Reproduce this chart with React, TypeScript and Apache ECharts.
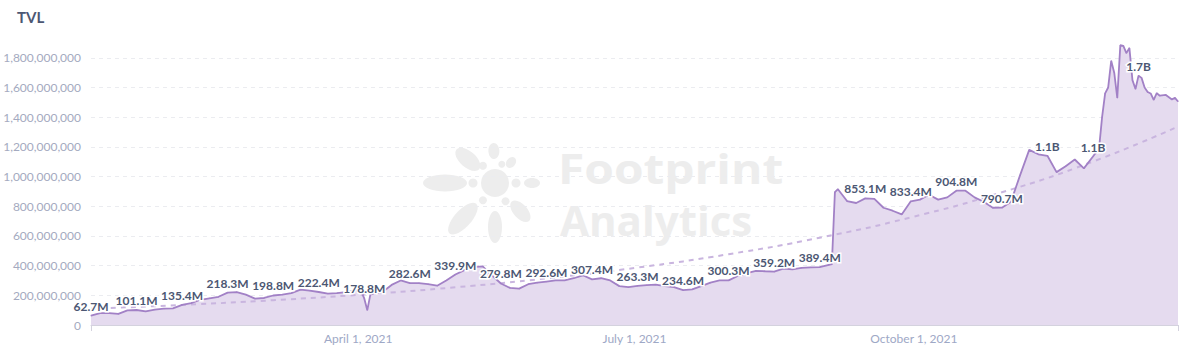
import React, { useEffect, useRef } from "react";
import * as echarts from "echarts";

const START_DATE = "2021-01-03";
const END_DAY = 358;
const LABEL_EVERY = 15;

// day offsets from START_DATE and TVL values (millions USD)
const dayOffsets = [
  0, 3, 6, 9, 12, 15, 18, 21, 24, 27, 30, 33, 36, 39, 42, 45, 48, 51, 54, 57, 60,
  63, 66, 69, 72, 75, 78, 81, 84, 87, 89, 90, 91, 92, 93, 96, 99, 102, 105, 108, 111, 114, 117, 120,
  123, 126, 129, 132, 135, 138, 141, 144, 147, 150, 153, 156, 159, 162, 165, 168, 171, 174, 177, 180,
  183, 186, 189, 192, 195, 198, 201, 204, 207, 210, 213, 216, 219, 222, 225, 228, 231, 234, 237, 240, 243, 244, 245, 246,
  249, 252, 255, 258, 261, 264, 267, 270, 273, 276, 279, 282, 285, 288, 291, 294, 297, 300, 303,
  306, 309, 312, 315, 318, 321, 324, 327, 330, 332, 333, 334, 335, 336, 337, 338, 339, 340, 341, 342, 343, 344, 345,
  346, 347, 348, 349, 350, 351, 352, 354, 356, 357, 358,
];
const tvlMillions = [
  62.7, 80, 80, 75, 98, 101.1, 92, 104, 110, 112, 135.4, 148, 170, 180, 190, 218.3, 222, 205, 178, 182, 198.8,
  205, 215, 238, 232, 222.4, 212, 215, 222, 235, 225, 178.8, 100, 205, 212, 222, 270, 300, 282.6, 282, 275, 265, 300, 339.9,
  370, 390, 395, 335, 279.8, 250, 245, 275, 285, 292.6, 300, 300, 315, 335, 307.4, 315, 300, 262, 255, 263.3,
  268, 272, 262, 255, 234.6, 240, 262, 285, 300, 300.3, 330, 350, 365, 362, 359.2, 380, 375, 385, 388, 389.4, 405, 410, 895, 915,
  835, 822, 853.1, 850, 790, 770, 745, 833.4, 845, 878, 845, 860, 904.8, 905, 860, 830, 790, 790.7, 831,
  1010, 1180, 1150, 1140, 1030, 1070, 1115, 1055, 1135, 1190, 1400, 1560, 1600, 1780, 1700, 1530, 1885, 1880, 1832, 1866, 1650, 1590, 1680,
  1665, 1600, 1570, 1560, 1517, 1562, 1545, 1550, 1520, 1530, 1506,
];

// dashed trend line (millions USD)
const trendDays = [0, 30, 60, 90, 120, 150, 180, 210, 240, 270, 300, 330, 358];
const trendMillions = [110, 135, 167, 206, 254, 314, 387, 477, 588, 725, 894, 1101, 1337];

const xLabelDates = ["2021-04-01", "2021-07-01", "2021-10-01"];
const MONTHS = [
  "January", "February", "March", "April", "May", "June",
  "July", "August", "September", "October", "November", "December",
];

const DAY = 86400000;
const t0 = Date.parse(START_DATE);
const dayOf = (s: string) => Math.round((Date.parse(s) - t0) / DAY);

const fmtShort = (m: number) => (m >= 1000 ? (m / 1000).toFixed(1) + "B" : m.toFixed(1) + "M");
const fmtDay = (day: number) => {
  const d = new Date(t0 + day * DAY);
  return `${MONTHS[d.getUTCMonth()]} ${d.getUTCDate()}, ${d.getUTCFullYear()}`;
};

const LINE = "#a281c6";
const AREA = "#e5dbef";
const TREND = "#c9b5df";
const WM = "#ededed";

export default function App() {
  const ref = useRef<HTMLDivElement>(null);
  useEffect(() => {
    if (!ref.current) return;
    const chart = echarts.init(ref.current, undefined, { renderer: "svg" });

    const mainData = dayOffsets.map((d, i) => ({
      value: [d, tvlMillions[i] * 1e6],
      label: { show: d % LABEL_EVERY === 0 },
    }));
    const areaData = dayOffsets.map((d, i) => [d, tvlMillions[i] * 1e6]);
    const trendData = trendDays.map((d, i) => [d, trendMillions[i] * 1e6]);

    const cx = 495, cy = 183;
    const petals = [
      { a: 180, d: 50, rx: 22, ry: 8.5 },
      { a: -139, d: 36, rx: 15, ry: 8 },
      { a: -92, d: 32, rx: 8, ry: 5.5 },
      { a: -52, d: 26, rx: 6, ry: 4.5 },
      { a: 0, d: 37, rx: 8, ry: 5 },
      { a: 48, d: 38, rx: 13, ry: 7 },
      { a: 90, d: 44, rx: 16, ry: 7 },
      { a: 132, d: 48, rx: 20, ry: 8.5 },
    ];
    const dots = [
      { a: 180, d: 22, r: 4.5 },
      { a: 0, d: 21, r: 4.5 },
      { a: -125, d: 21, r: 4 },
      { a: -70, d: 20, r: 3.5 },
      { a: 125, d: 21, r: 4 },
      { a: 60, d: 21, r: 4 },
    ];
    const rad = (a: number) => (a * Math.PI) / 180;
    const logo: any[] = [
      { type: "circle", shape: { cx, cy, r: 14 }, style: { fill: WM }, silent: true },
      ...petals.map((p) => ({
        type: "ellipse",
        x: cx + p.d * Math.cos(rad(p.a)),
        y: cy + p.d * Math.sin(rad(p.a)),
        rotation: -rad(p.a),
        shape: { cx: 0, cy: 0, rx: p.rx, ry: p.ry },
        style: { fill: WM },
        silent: true,
      })),
      ...dots.map((p) => ({
        type: "circle",
        shape: { cx: cx + p.d * Math.cos(rad(p.a)), cy: cy + p.d * Math.sin(rad(p.a)), r: p.r },
        style: { fill: WM },
        silent: true,
      })),
    ];

    chart.setOption({
      animation: false,
      backgroundColor: "#fff",
      textStyle: { fontFamily: "Lato" },
      grid: { left: 91, right: 18, top: 43, bottom: 31 },
      graphic: [
        {
          type: "text",
          left: 17,
          top: 9,
          style: { text: "TVL", font: 'bold 15px "Lato"', fill: "#4c5773" },
        },
        ...logo,
        {
          type: "text",
          x: 558,
          y: 168,
          scaleX: 1.14,
          silent: true,
          style: { text: "Footprint", font: 'bold 42px "Open Sans"', fill: WM, verticalAlign: "middle" },
        },
        {
          type: "text",
          x: 560,
          y: 219,
          silent: true,
          style: { text: "Analytics", font: 'bold 42px "Open Sans"', fill: WM, verticalAlign: "middle" },
        },
      ],
      xAxis: {
        type: "value",
        min: 0,
        max: END_DAY,
        axisLine: { show: true, lineStyle: { color: "#d4d2de", width: 1 } },
        axisTick: {
          show: true,
          customValues: [0, END_DAY],
          length: 6,
          lineStyle: { color: "#d4d2de" },
        },
        axisLabel: {
          customValues: xLabelDates.map(dayOf),
          formatter: (v: number) => fmtDay(v),
          color: "#9ea8c6",
          fontSize: 12,
          fontFamily: "Lato",
          margin: 7,
        },
        splitLine: { show: false },
      },
      yAxis: {
        type: "value",
        min: 0,
        max: 1.9e9,
        interval: 2e8,
        axisLine: { show: false },
        axisTick: { show: false },
        axisLabel: {
          showMaxLabel: false,
          color: "#a4aac0",
          fontSize: 12,
          fontFamily: "Lato",
          margin: 10,
          formatter: (v: number) => v.toLocaleString("en-US"),
        },
        splitLine: {
          show: true,
          showMaxLine: false,
          lineStyle: { type: [4, 4], color: "#ebecf0", width: 1 },
        },
      },
      series: [
        {
          type: "line",
          data: areaData,
          symbol: "none",
          lineStyle: { width: 0 },
          areaStyle: { color: AREA, opacity: 1 },
          silent: true,
          z: 1,
        },
        {
          type: "line",
          data: trendData,
          smooth: true,
          symbol: "none",
          lineStyle: { type: [5, 5], color: TREND, width: 2 },
          silent: true,
          z: 2,
        },
        {
          type: "line",
          data: mainData,
          symbol: "circle",
          symbolSize: 1,
          showSymbol: true,
          itemStyle: { color: LINE },
          lineStyle: { color: LINE, width: 1.8 },
          emphasis: { disabled: true },
          label: {
            show: false,
            position: "top",
            distance: 3,
            formatter: (p: any) => fmtShort(p.value[1] / 1e6),
            fontFamily: "Lato",
            fontWeight: "bold",
            fontSize: 12,
            color: "#4c5773",
            textBorderColor: "#fff",
            textBorderWidth: 3,
          },
          z: 3,
        },
      ],
    });
    return () => chart.dispose();
  }, []);
  return (
    <div
      ref={ref}
      style={{ position: "fixed", left: 0, top: 0, width: 1196, height: 356 }}
    />
  );
}
